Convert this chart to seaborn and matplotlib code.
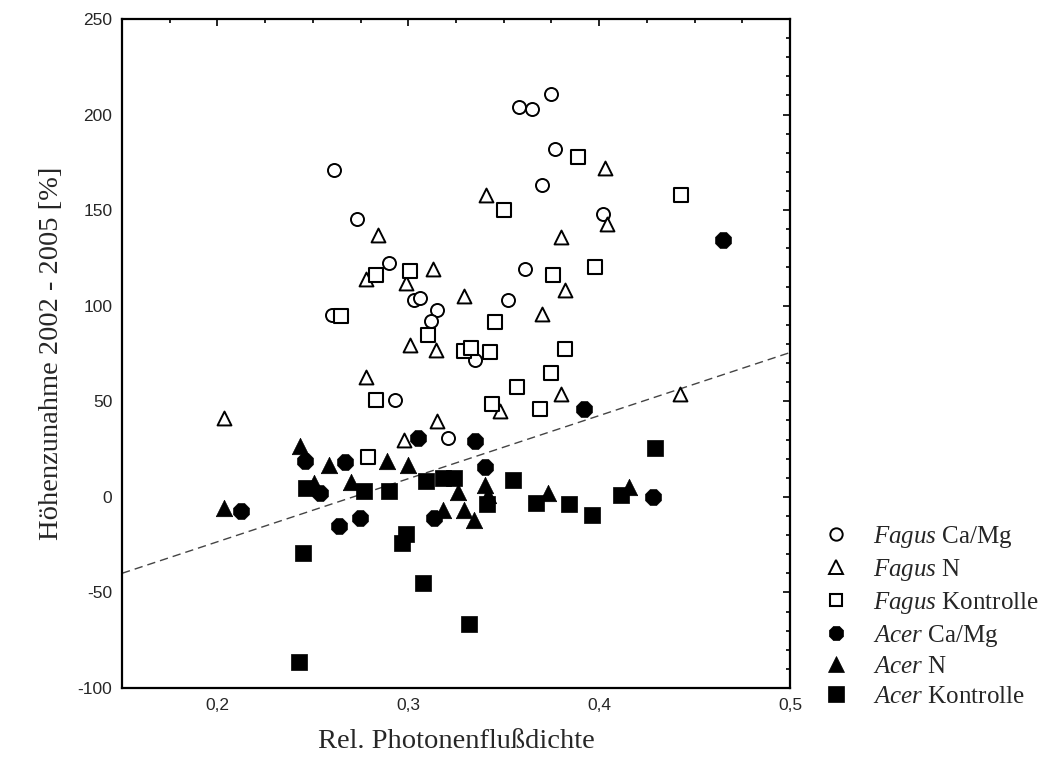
import numpy as np
import pandas as pd
import matplotlib
matplotlib.use("Agg")
import matplotlib.pyplot as plt
from matplotlib.lines import Line2D
from matplotlib.ticker import MultipleLocator
import seaborn as sns

# Relative photon flux density (x) and height increment 2002-2005 in % (y)
fagus_camg_x = [0.261, 0.273, 0.290, 0.303, 0.306, 0.260, 0.315, 0.312, 0.335, 0.293,
                0.321, 0.375, 0.358, 0.365, 0.377, 0.370, 0.402, 0.361, 0.352]
fagus_camg_y = [171, 145.6, 122.5, 103, 104, 95, 98, 92, 71.5, 50.7,
                31, 211, 204, 202.8, 182, 163, 148, 119.4, 103]

fagus_n_x = [0.3405, 0.284, 0.278, 0.313, 0.299, 0.329, 0.403, 0.404, 0.380, 0.382,
             0.370, 0.301, 0.3145, 0.2777, 0.2037, 0.348, 0.315, 0.298, 0.380, 0.4426]
fagus_n_y = [158, 137, 114, 119, 112, 105, 172, 142.6, 136, 108,
             95.5, 79.5, 77, 62.8, 41.5, 45, 39.7, 29.6, 53.7, 54]

fagus_kontrolle_x = [0.283, 0.301, 0.265, 0.389, 0.443, 0.350, 0.376, 0.398, 0.3455, 0.3105,
                     0.329, 0.333, 0.343, 0.283, 0.344, 0.279, 0.382, 0.375, 0.357, 0.369]
fagus_kontrolle_y = [116, 118, 94.7, 178, 158, 150, 116, 120.3, 91.7, 84.7,
                     76.4, 78, 76, 50.7, 48.8, 21, 77.6, 64.7, 57.7, 45.9]

acer_camg_x = [0.465, 0.305, 0.335, 0.246, 0.2667, 0.340, 0.392, 0.254, 0.2123, 0.2637,
               0.2747, 0.3137, 0.4284]
acer_camg_y = [134.3, 31, 29, 18.8, 18, 15.5, 45.9, 2.2, -7.5, -15.5,
               -10.8, -11, 0]

acer_n_x = [0.2434, 0.2583, 0.289, 0.300, 0.2505, 0.2702, 0.2037, 0.326, 0.340, 0.342,
            0.318, 0.329, 0.3345, 0.373, 0.4155]
acer_n_y = [26.7, 16.7, 18.8, 16.7, 7.5, 8, -5.9, 2.8, 6, 1,
            -7, -7, -12, 2.2, 5.4]

acer_kontrolle_x = [0.2463, 0.2768, 0.290, 0.3093, 0.318, 0.324, 0.355, 0.341, 0.367, 0.384,
                    0.3961, 0.4114, 0.4293, 0.2449, 0.2988, 0.2967, 0.3079, 0.332, 0.2425]
acer_kontrolle_y = [4.5, 3.1, 3.3, 8.4, 9.8, 9.8, 9, -3.5, -3, -3.8,
                    -9.5, 1, 25.8, -29.6, -19.5, -23.9, -45.3, -66.3, -86.3]

# Linear fit drawn across the whole axis
fit_intercept = -89.5
fit_slope = 330.0

group_names = ["Fagus Ca/Mg", "Fagus N", "Fagus Kontrolle",
               "Acer Ca/Mg", "Acer N", "Acer Kontrolle"]
legend_labels = [r"$\mathit{Fagus}$ Ca/Mg", r"$\mathit{Fagus}$ N", r"$\mathit{Fagus}$ Kontrolle",
                 r"$\mathit{Acer}$ Ca/Mg", r"$\mathit{Acer}$ N", r"$\mathit{Acer}$ Kontrolle"]
xtick_values = [0.2, 0.3, 0.4, 0.5]
xtick_labels = ["0,2", "0,3", "0,4", "0,5"]
ytick_values = [-100, -50, 0, 50, 100, 150, 200, 250]

series = [
    (fagus_camg_x, fagus_camg_y),
    (fagus_n_x, fagus_n_y),
    (fagus_kontrolle_x, fagus_kontrolle_y),
    (acer_camg_x, acer_camg_y),
    (acer_n_x, acer_n_y),
    (acer_kontrolle_x, acer_kontrolle_y),
]
df = pd.concat(
    [pd.DataFrame({"licht": xs, "zunahme": ys, "gruppe": name})
     for name, (xs, ys) in zip(group_names, series)],
    ignore_index=True,
)

sns.set_style("white")
plt.rcParams["font.family"] = ["Liberation Serif", "DejaVu Serif"]
plt.rcParams["mathtext.fontset"] = "custom"
plt.rcParams["mathtext.it"] = "Liberation Serif:italic"
plt.rcParams["mathtext.rm"] = "Liberation Serif"

styles = {
    "Fagus Ca/Mg":     dict(marker="o", s=88,  facecolor="white", linewidth=1.4, zorder=3),
    "Fagus N":         dict(marker="^", s=100, facecolor="white", linewidth=1.4, zorder=3),
    "Fagus Kontrolle": dict(marker="s", s=96,  facecolor="white", linewidth=1.5, zorder=3),
    "Acer Ca/Mg":      dict(marker="8", s=150, facecolor="black", linewidth=0.5, zorder=4),
    "Acer N":          dict(marker="^", s=140, facecolor="black", linewidth=0.5, zorder=4),
    "Acer Kontrolle":  dict(marker="s", s=140, facecolor="black", linewidth=0.5, zorder=4),
}

fig = plt.figure(figsize=(10.47, 7.71), dpi=100)
ax = fig.add_axes([122 / 1047, 83 / 771, 668 / 1047, 669 / 771])

for name in group_names:
    st = styles[name]
    sns.scatterplot(data=df[df["gruppe"] == name], x="licht", y="zunahme",
                    marker=st["marker"], s=st["s"], facecolor=st["facecolor"],
                    edgecolor="black", linewidth=st["linewidth"], zorder=st["zorder"],
                    legend=False, ax=ax)

# Regression line
fit_x = np.array([0.15, 0.5])
fit_df = pd.DataFrame({"licht": fit_x, "zunahme": fit_intercept + fit_slope * fit_x})
sns.lineplot(data=fit_df, x="licht", y="zunahme", color="#444444", linewidth=1.0,
             dashes=False, ax=ax, zorder=2)
ax.lines[-1].set_dashes((6, 3.6))

ax.set_xlim(0.15, 0.5)
ax.set_ylim(-100, 250)
ax.set_xticks(xtick_values, xtick_labels)
ax.set_yticks(ytick_values, [str(v) for v in ytick_values])
ax.xaxis.set_minor_locator(MultipleLocator(0.025))
ax.yaxis.set_minor_locator(MultipleLocator(10))
ax.tick_params(which="both", direction="in", top=True, right=True, color="black",
               width=1.2, labelsize=12.5, pad=7)
ax.tick_params(which="major", length=5)
ax.tick_params(which="minor", length=3)
for lab in ax.get_xticklabels() + ax.get_yticklabels():
    lab.set_fontfamily(["Liberation Sans", "DejaVu Sans"])
for sp in ax.spines.values():
    sp.set_visible(True)
    sp.set_color("black")
    sp.set_linewidth(1.6)

ax.set_xlabel("Rel. Photonenflußdichte", fontsize=20.5, labelpad=12)
ax.set_ylabel("Höhenzunahme 2002 - 2005 [%]", fontsize=20.5, labelpad=10)

handles = []
for name in group_names:
    st = styles[name]
    handles.append(Line2D([], [], linestyle="none", marker=st["marker"],
                          markersize=np.sqrt(st["s"]) * 0.95,
                          markerfacecolor=st["facecolor"], markeredgecolor="black",
                          markeredgewidth=max(st["linewidth"], 0.5)))
fig.legend(handles, legend_labels, loc="upper left", bbox_to_anchor=(823 / 1047, 0.321),
           frameon=False, fontsize=18, handlelength=1.0, handletextpad=1.0,
           labelspacing=0.28, borderpad=0, borderaxespad=0)

fig.savefig("out.png", dpi=100)
